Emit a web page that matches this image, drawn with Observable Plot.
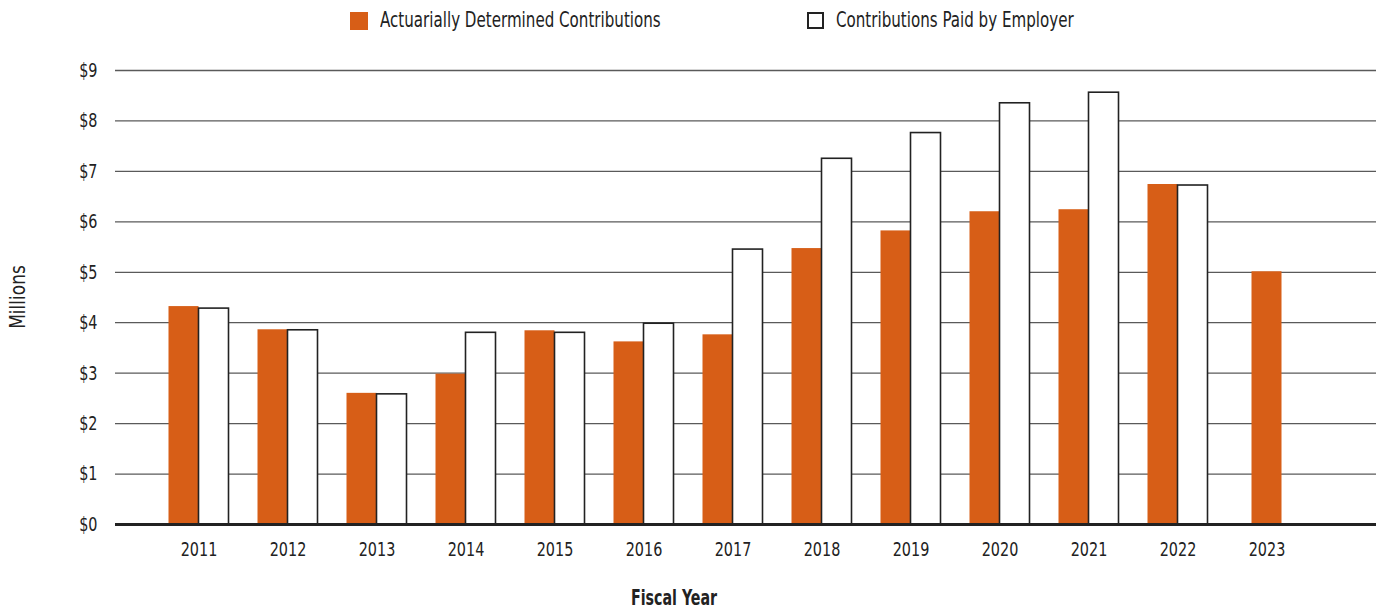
<!DOCTYPE html>
<html>
<head>
<meta charset="utf-8">
<script src="https://cdn.jsdelivr.net/npm/d3@7"></script>
<script src="https://cdn.jsdelivr.net/npm/@observablehq/plot@0.6"></script>
<style>
  body { margin: 0; background: #fff; }
  #wrap { position: relative; width: 1391px; height: 612px; overflow: hidden;
          font-family: "DejaVu Sans Condensed", "Liberation Sans Narrow", sans-serif; color: #222; }
  .leg { position: absolute; top: 2px; font-size: 22px; line-height: 36px; white-space: nowrap;
         transform: scaleX(0.763); transform-origin: 0 50%; }
  .sw { position: absolute; top: 12px; width: 18px; height: 18px; box-sizing: border-box; }
  #xt { position: absolute; top: 585px; left: 674px; transform: translateX(-50%) scaleX(0.72); font-weight: bold; font-size: 22px; white-space: nowrap; }
  #yt { position: absolute; left: 18px; top: 297px; transform: translate(-50%, -50%) rotate(-90deg) scaleX(0.9); font-size: 21px; white-space: nowrap; }
  #chart { position: absolute; left: 0; top: 0; }
</style>
</head>
<body>
<div id="wrap">
  <div id="chart"></div>
  <div class="sw" style="left:350px;background:#D75E17;"></div>
  <div class="leg" style="left:380px;">Actuarially Determined Contributions</div>
  <div class="sw" style="left:807px;background:#fff;border:2px solid #222;width:17px;height:17px;"></div>
  <div class="leg" style="left:836px;">Contributions Paid by Employer</div>
  <div id="yt">Millions</div>
  <div id="xt">Fiscal Year</div>
</div>
<script>
const years = ["2011","2012","2013","2014","2015","2016","2017","2018","2019","2020","2021","2022","2023"];
const adc   = [4.32, 3.86, 2.60, 2.98, 3.84, 3.62, 3.76, 5.47, 5.82, 6.20, 6.24, 6.74, 5.01];
const paid  = [4.28, 3.85, 2.58, 3.80, 3.80, 3.98, 5.45, 7.25, 7.76, 8.35, 8.56, 6.72, null];
const yTicks = [0,1,2,3,4,5,6,7,8,9];

const rows = years.map((year, i) => ({year, adc: adc[i], paid: paid[i]}));
const paired = rows.filter(d => d.paid != null);
const single = rows.filter(d => d.paid == null);

const chart = Plot.plot({
  width: 1391,
  height: 612,
  marginTop: 70,
  marginBottom: 88,
  marginLeft: 115,
  marginRight: 15,
  style: {fontFamily: '"DejaVu Sans Condensed", "Liberation Sans Narrow", sans-serif', fontSize: "20px", color: "#222", background: "transparent"},
  x: {type: "band", domain: years, range: [153.5, 1310.5], padding: 0},
  y: {domain: [0, 9]},
  marks: [
    Plot.ruleY(yTicks.filter(t => t > 0), {stroke: "#5a5a5a", strokeWidth: 1.3}),
    Plot.barY(paired, {x: "year", y: "adc", fill: "#D75E17", insetLeft: 14.5, insetRight: 44.5}),
    Plot.barY(single, {x: "year", y: "adc", fill: "#D75E17", insetLeft: 29.5, insetRight: 29.5}),
    Plot.barY(paired, {x: "year", y: "paid", fill: "#fff", stroke: "#222", strokeWidth: 1.6, insetLeft: 44.5, insetRight: 14.5}),
    Plot.ruleY([0], {stroke: "#222", strokeWidth: 3}),
    Plot.axisY({ticks: yTicks, tickSize: 0, tickPadding: 18, tickFormat: d => "$" + d, label: null}),
    Plot.axisX({tickSize: 0, tickPadding: 17, label: null})
  ]
});
// condense tick label glyphs horizontally around their anchor
chart.querySelectorAll('g[aria-label$="tick label"] text').forEach(t => {
  const tr = t.getAttribute("transform");
  if (tr) t.setAttribute("transform", tr + " scale(0.8,1)");
});
document.getElementById("chart").appendChild(chart);
</script>
</body>
</html>
